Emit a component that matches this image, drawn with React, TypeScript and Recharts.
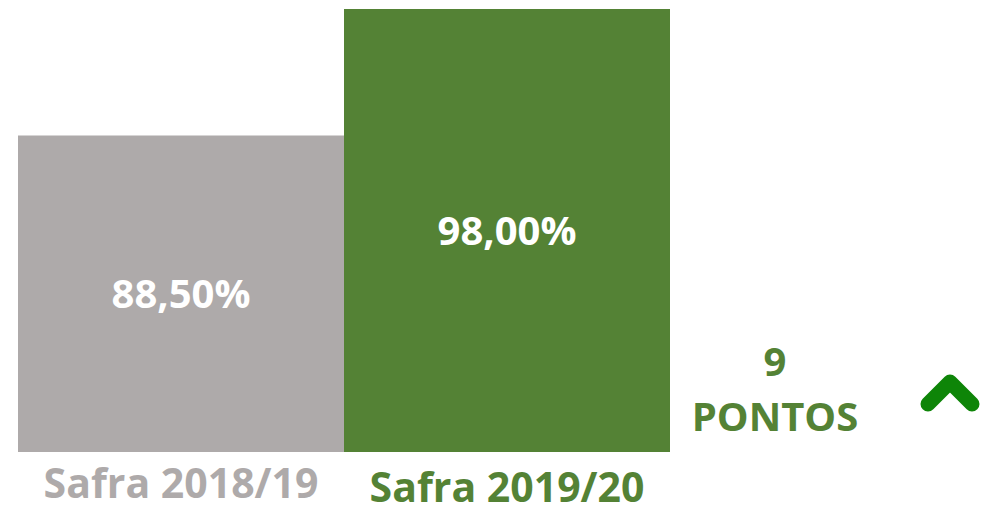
import React from "react";
import { BarChart, Bar, XAxis, YAxis, Cell, LabelList, Customized } from "recharts";

const categories = ["Safra 2018/19", "Safra 2019/20"];
const values = [88.5, 98.0];
const barColors = ["#AEAAAA", "#548235"];
const tickColors = ["#AEAAAA", "#548235"];
const deltaNumber = "9";
const deltaUnit = "PONTOS";

const data = categories.map((c, i) => ({ name: c, value: values[i] }));

const FONT = "'Open Sans', Lato, sans-serif";

const fmt = (v: number) => v.toFixed(2).replace(".", ",") + "%";

const Tick = (props: any) => {
  const { x, y, payload, index } = props;
  return (
    <text
      x={x}
      y={y + 46 + index * 4}
      textAnchor="middle"
      fill={tickColors[index]}
      fontFamily={FONT}
      fontWeight={700}
      fontSize={41}
    >
      {payload.value}
    </text>
  );
};

const Extra = () => (
  <g>
    <text x={775} y={376} textAnchor="middle" fill="#548235" fontFamily={FONT} fontWeight={700} fontSize={40}>
      {deltaNumber}
    </text>
    <text x={775} y={431} textAnchor="middle" fill="#548235" fontFamily={FONT} fontWeight={700} fontSize={40}>
      {deltaUnit}
    </text>
    <path
      d="M928,404 L950,382 L972,404"
      fill="none"
      stroke="#0E8508"
      strokeWidth={15}
      strokeLinecap="round"
      strokeLinejoin="round"
    />
  </g>
);

export default function App() {
  return (
    <div style={{ position: "absolute", left: 0, top: 0, width: 981, height: 513, background: "#fff" }}>
      <BarChart
        width={981}
        height={513}
        data={data}
        margin={{ top: 9, right: 311, bottom: 0, left: 18 }}
        barCategoryGap={0}
      >
        <YAxis hide domain={[64.7, 98]} allowDataOverflow />
        <XAxis
          dataKey="name"
          height={61}
          axisLine={false}
          tickLine={false}
          tickSize={0}
          tickMargin={0}
          tick={<Tick />}
          interval={0}
        />
        <Bar dataKey="value" isAnimationActive={false}>
          {data.map((d, i) => (
            <Cell key={d.name} fill={barColors[i]} />
          ))}
          <LabelList
            dataKey="value"
            position="center"
            formatter={(v: any) => fmt(Number(v))}
            fill="#FFFFFF"
            fontFamily={FONT}
            fontWeight={700}
            fontSize={40}
          />
        </Bar>
        <Customized component={Extra} />
      </BarChart>
    </div>
  );
}
